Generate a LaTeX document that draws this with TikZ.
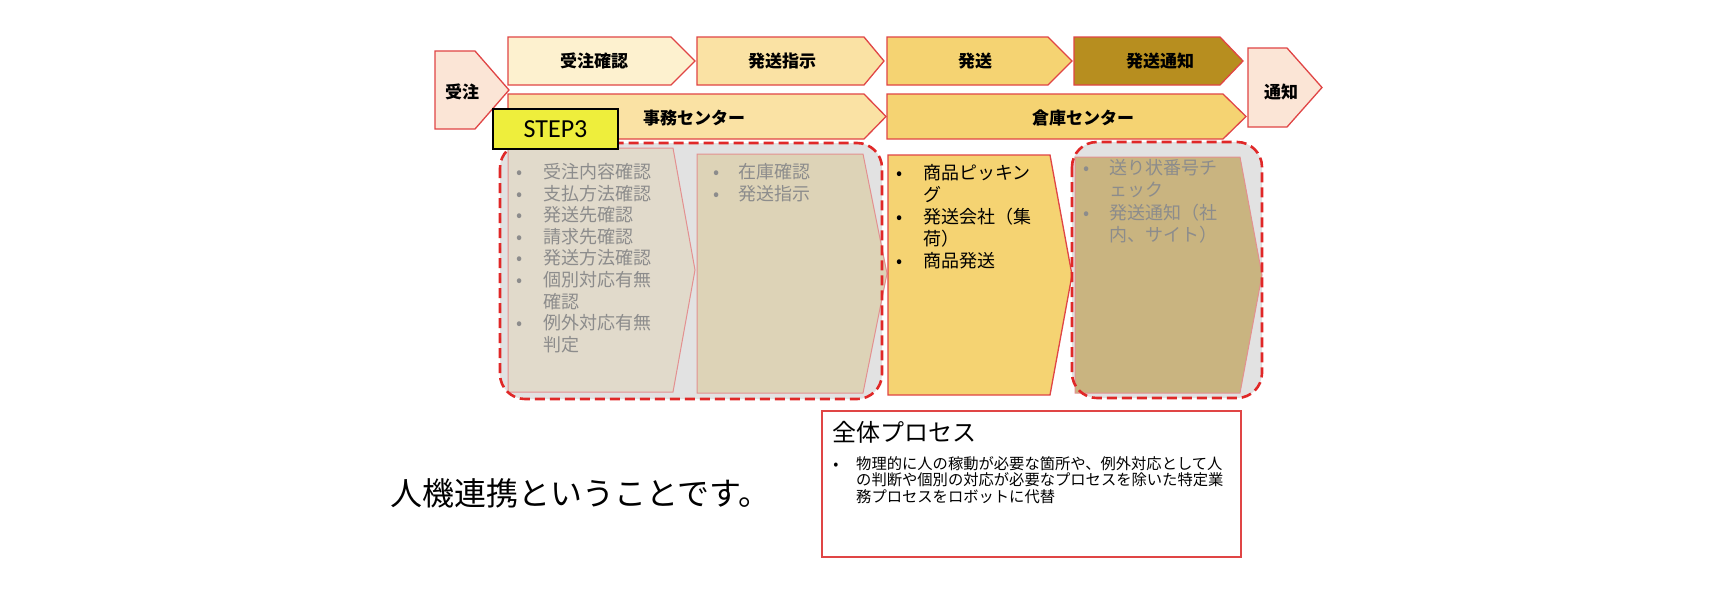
\documentclass[tikz,border=0pt]{standalone}
\usepackage{fontspec}
\setmainfont{Noto Sans CJK JP}
\newfontfamily\stepfont{Carlito}
\definecolor{arrRed}{HTML}{E04545}
\definecolor{pinkFill}{HTML}{FBE5D6}
\definecolor{creamA}{HTML}{FDF1CF}
\definecolor{creamB}{HTML}{FAE2A4}
\definecolor{goldA}{HTML}{F5D372}
\definecolor{goldB}{HTML}{B78E1F}
\definecolor{pOne}{HTML}{E1DACB}
\definecolor{pTwo}{HTML}{DDD3B7}
\definecolor{pFour}{HTML}{C9B480}
\definecolor{overGrey}{HTML}{E2E2E2}
\definecolor{lightRed}{HTML}{E39090}
\definecolor{greyText}{HTML}{8C8C8C}
\definecolor{stepYellow}{HTML}{EEEE3C}
\definecolor{dashRed}{HTML}{E02828}
\newcommand\pent[6]{\draw[#1] (#2,#3) -- (#4,#3) -- (#5,{(#3+#6)/2}) -- (#4,#6) -- (#2,#6) -- cycle;}
\tikzset{
  hdr/.style={draw=arrRed, line width=1.3pt, line join=miter},
  inner/.style={draw=lightRed, line width=1pt, line join=miter},
  hlabel/.style={font=\fontsize{17}{19}\selectfont\bfseries, anchor=center, inner sep=0pt},
  ltxt/.style={font=\fontsize{18}{20}\selectfont, anchor=base west, inner sep=0pt},
  lbul/.style={font=\fontsize{18}{20}\selectfont, anchor=base, inner sep=0pt},
  dashbox/.style={draw=dashRed, line width=2.6pt, dash pattern=on 10pt off 5pt, rounded corners=25pt},
}
\begin{document}
\begin{tikzpicture}[x=1pt,y=-1pt]
\useasboundingbox (0,0) rectangle (1720,598);
\fill[white] (0,0) rectangle (1720,598);
% header arrows
\pent{hdr,fill=pinkFill}{435}{51}{475}{509}{129}
\pent{hdr,fill=creamA}{508}{37}{671}{695}{85}
\pent{hdr,fill=creamB}{697}{37}{864}{884}{85}
\pent{hdr,fill=goldA}{887}{37}{1048}{1072}{85}
\pent{hdr,fill=goldB}{1074}{37}{1220}{1243}{85}
\pent{hdr,fill=creamB}{508}{94}{864}{886}{139}
\pent{hdr,fill=goldA}{887}{94}{1223}{1246}{139}
\pent{hdr,fill=pinkFill}{1248}{48}{1287}{1322}{127}
\node[hlabel] (juchu) at (462,92) {受注};
\node[hlabel] (juchukakunin) at (594,61) {受注確認};
\node[hlabel] (hassoshiji) at (782,61) {発送指示};
\node[hlabel] (hasso) at (975,61) {発送};
\node[hlabel] (hassotsuchi) at (1160,61) {発送通知};
\node[hlabel] (jimu) at (694,118) {事務センター};
\node[hlabel] (soko) at (1083,118) {倉庫センター};
\node[hlabel] (tsuchi) at (1281,92) {通知};
% dashed groups backgrounds
\fill[overGrey, rounded corners=25pt] (500,143) rectangle (882,399);
\fill[overGrey, rounded corners=25pt] (1072,142) rectangle (1262,398);
% process pentagons
\pent{inner,fill=pOne}{508}{148}{673}{695}{392}
\pent{inner,fill=pTwo}{697}{154}{863}{887}{393}
\pent{hdr,fill=goldA}{888}{155}{1050}{1072}{395}
\pent{inner,fill=pFour}{1075}{157}{1240}{1262}{393}
% texts of P1
\begin{scope}[every node/.append style={text=greyText}]
\node[lbul] (b11) at (520,178.5) {•};
\node[ltxt] (t11) at (543,178.5) {受注内容確認};
\node[lbul] (b12) at (520,200.1) {•};
\node[ltxt] (t12) at (543,200.1) {支払方法確認};
\node[lbul] (b13) at (520,221.7) {•};
\node[ltxt] (t13) at (543,221.7) {発送先確認};
\node[lbul] (b14) at (520,243.3) {•};
\node[ltxt] (t14) at (543,243.3) {請求先確認};
\node[lbul] (b15) at (520,264.9) {•};
\node[ltxt] (t15) at (543,264.9) {発送方法確認};
\node[lbul] (b16) at (520,286.5) {•};
\node[ltxt] (t16) at (543,286.5) {個別対応有無};
\node[ltxt] (t17) at (543,308.1) {確認};
\node[lbul] (b18) at (520,329.7) {•};
\node[ltxt] (t18) at (543,329.7) {例外対応有無};
\node[ltxt] (t19) at (543,351.3) {判定};
% P2
\node[lbul] (b21) at (717,178.5) {•};
\node[ltxt] (t21) at (738,178.5) {在庫確認};
\node[lbul] (b22) at (717,200.1) {•};
\node[ltxt] (t22) at (738,200.1) {発送指示};
% P4
\node[lbul] (b41) at (1087,174.5) {•};
\node[ltxt] (t41) at (1109,174.5) {送り状番号チ};
\node[ltxt] (t42) at (1109,196.8) {ェック};
\node[lbul] (b43) at (1087,219.1) {•};
\node[ltxt] (t43) at (1109,219.1) {発送通知（社};
\node[ltxt] (t44) at (1109,241.4) {内、サイト）};
\end{scope}
% P3
\node[lbul] (b31) at (900,179.5) {•};
\node[ltxt] (t31) at (923,179.5) {商品ピッキン};
\node[ltxt] (t32) at (923,201.5) {グ};
\node[lbul] (b33) at (900,223.5) {•};
\node[ltxt] (t33) at (923,223.5) {発送会社（集};
\node[ltxt] (t34) at (923,245.5) {荷）};
\node[lbul] (b35) at (900,267.5) {•};
\node[ltxt] (t35) at (923,267.5) {商品発送};
% dashed borders
\draw[dashbox] (500,143) rectangle (882,399);
\draw[dashbox] (1072,142) rectangle (1262,398);
% STEP3
\node[draw=black, line width=1.8pt, fill=stepYellow, minimum width=125pt, minimum height=40pt, inner sep=0pt, font=\stepfont\fontsize{26}{28}\selectfont] (step3) at (555.5,129) {STEP3};
% overall process box
\node[draw=arrRed, line width=2pt, minimum width=419pt, minimum height=146pt, inner sep=0pt] (zentai) at (1031.5,484) {};
\node[font=\fontsize{24}{26}\selectfont, anchor=base west, inner sep=0pt] (zentaititle) at (832,441) {全体プロセス};
\node[font=\fontsize{15}{17}\selectfont, anchor=base, inner sep=0pt] (zb) at (836,469) {•};
\node[font=\fontsize{15.3}{17}\selectfont, anchor=base west, inner sep=0pt] (z1) at (856,469) {物理的に人の稼動が必要な箇所や、例外対応として人};
\node[font=\fontsize{15.3}{17}\selectfont, anchor=base west, inner sep=0pt] (z2) at (856,485.5) {の判断や個別の対応が必要なプロセスを除いた特定業};
\node[font=\fontsize{15.3}{17}\selectfont, anchor=base west, inner sep=0pt] (z3) at (856,502) {務プロセスをロボットに代替};
% main text
\node[font=\fontsize{32}{36}\selectfont, anchor=base west, inner sep=0pt] (main) at (390,505) {人機連携ということです。};
\end{tikzpicture}
\end{document}
